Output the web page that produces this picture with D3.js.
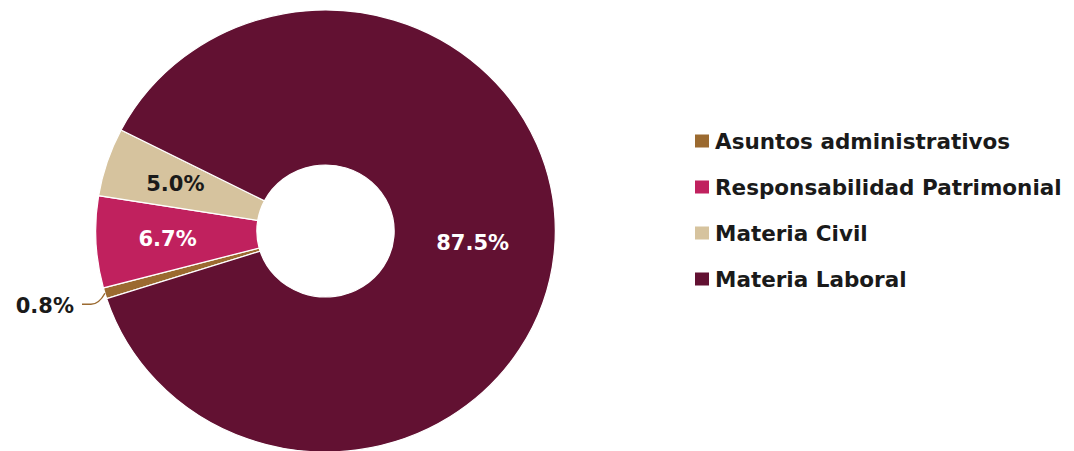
<!DOCTYPE html>
<html>
<head>
<meta charset="utf-8">
<script src="https://cdn.jsdelivr.net/npm/d3@7"></script>
<style>
  html, body { margin: 0; padding: 0; background: #fff; }
  svg { display: block; }
</style>
</head>
<body>
<svg id="chart_svg" width="1074" height="451"></svg>
<script>
// Data
var categories = ["Asuntos administrativos", "Responsabilidad Patrimonial", "Materia Civil", "Materia Laboral"];
var values = [0.8, 6.7, 5.0, 87.5];
var labels = ["0.8%", "6.7%", "5.0%", "87.5%"];
var colors = ["#9b6a30", "#c0215e", "#d6c39e", "#621132"];
var labelColors = ["#1a1a1a", "#ffffff", "#1a1a1a", "#ffffff"];

var chart_svg = d3.select("#chart_svg");

// donut geometry (image is a bit wider than tall)
const cx = 325.5, cy = 231;
const xStretch = 1.04;
const outerR = 221, innerR = 66;
const startDeg = 252.2;

const data = categories.map((c, i) => ({ name: c, value: values[i], label: labels[i], color: colors[i], textColor: labelColors[i] }));

const pie = d3.pie()
    .value(d => d.value)
    .sort(null)
    .startAngle(startDeg * Math.PI / 180)
    .endAngle((startDeg + 360) * Math.PI / 180);

const arcs = pie(data);

const arc = d3.arc().innerRadius(innerR).outerRadius(outerR);
const labelArc = d3.arc().innerRadius(152).outerRadius(152);
const bigLabelArc = d3.arc().innerRadius(142).outerRadius(142);
const edgeArc = d3.arc().innerRadius(outerR).outerRadius(outerR);

function labelPos(d) {
    const c = (d.data.value > 50 ? bigLabelArc : labelArc).centroid(d);
    return [cx + c[0] * xStretch, cy + c[1]];
}

// slices
chart_svg.append("g")
    .attr("transform", `translate(${cx},${cy}) scale(${xStretch},1)`)
    .selectAll("path")
    .data(arcs)
    .enter()
    .append("path")
        .attr("d", arc)
        .attr("fill", d => d.data.color)
        .attr("stroke", "#ffffff")
        .attr("stroke-width", 1.2);

const labelFont = "'DejaVu Sans', sans-serif";

// inside labels
const labels_g = chart_svg.append("g");
labels_g.selectAll("text.inside")
    .data(arcs.filter(d => d.data.value >= 2))
    .enter()
    .append("text")
        .attr("class", "inside")
        .attr("x", d => labelPos(d)[0])
        .attr("y", d => labelPos(d)[1])
        .attr("text-anchor", "middle")
        .attr("dominant-baseline", "central")
        .style("font-family", labelFont)
        .style("font-weight", "bold")
        .style("font-size", "21px")
        .style("fill", d => d.data.textColor)
        .text(d => d.data.label);

// small slice label with leader
arcs.filter(d => d.data.value < 2).forEach(d => {
    const p = edgeArc.centroid(d);
    const x0 = cx + p[0] * xStretch, y0 = cy + p[1];
    const lx = 82, ly = y0 + 11;
    labels_g.append("path")
        .attr("d", `M${x0},${y0} Q${x0 - 6},${ly} ${x0 - 14},${ly} L${lx},${ly}`)
        .attr("fill", "none")
        .attr("stroke", d.data.color)
        .attr("stroke-width", 1.5);
    labels_g.append("text")
        .attr("x", lx - 8)
        .attr("y", ly + 2)
        .attr("text-anchor", "end")
        .attr("dominant-baseline", "central")
        .style("font-family", labelFont)
        .style("font-weight", "bold")
        .style("font-size", "21px")
        .style("fill", d.data.textColor)
        .text(d.data.label);
});

// legend
const legendY = d3.scalePoint()
    .domain(categories)
    .range([141, 279]);

const legend = chart_svg.append("g")
    .selectAll("g")
    .data(data)
    .enter()
    .append("g")
        .attr("transform", d => `translate(695,${legendY(d.name)})`);

legend.append("rect")
    .attr("x", 0)
    .attr("y", -6.5)
    .attr("width", 14)
    .attr("height", 13)
    .attr("fill", d => d.color);

legend.append("text")
    .attr("x", 20)
    .attr("y", 0)
    .attr("dominant-baseline", "central")
    .style("font-family", labelFont)
    .style("font-weight", "bold")
    .style("font-size", "21.5px")
    .style("fill", "#1a1a1a")
    .text(d => d.name);
</script>
</body>
</html>
